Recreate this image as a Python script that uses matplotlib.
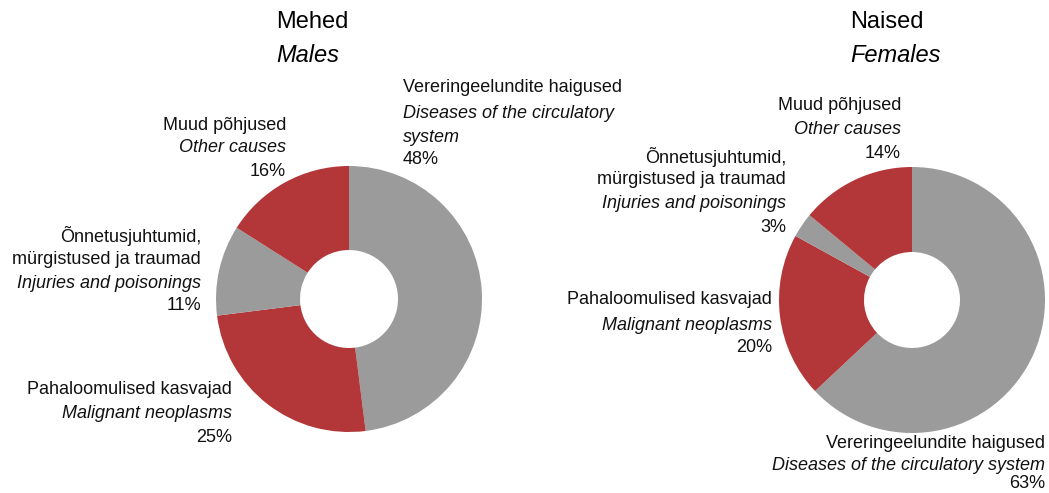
import matplotlib.pyplot as plt

plt.rcParams['font.family'] = ['Liberation Sans', 'DejaVu Sans']

# Data: share of causes of death (%)
causes_et = ["Vereringeelundite haigused", "Pahaloomulised kasvajad",
             "Õnnetusjuhtumid, mürgistused ja traumad", "Muud põhjused"]
causes_en = ["Diseases of the circulatory system", "Malignant neoplasms",
             "Injuries and poisonings", "Other causes"]
males = [48, 25, 11, 16]
females = [63, 20, 3, 14]
colors = ["#9b9b9b", "#b33638", "#9b9b9b", "#b33638"]

W, H = 1049, 493
fig = plt.figure(figsize=(W / 100, H / 100), dpi=100)
ax = fig.add_axes([0, 0, 1, 1])


def py(y):
    # pixel row -> data y
    return H - y


def donut(values, cx, cy, r, hole):
    ax.pie(values, colors=colors, startangle=90, counterclock=False,
           radius=r, center=(cx, py(cy)), frame=True,
           wedgeprops=dict(width=r - hole, linewidth=0))


def label(x, ys, lines, ha):
    # lines: list of (text, italic)
    for y, (t, it) in zip(ys, lines):
        ax.text(x, py(y), t, ha=ha, va='center', fontsize=13,
                style='italic' if it else 'normal', color='#111111')


donut(males, 349, 299, 133, 49)
donut(females, 912, 300, 133, 48)
ax.set_xlim(0, W)
ax.set_ylim(0, H)
ax.set_aspect('equal')
ax.axis('off')

# titles
ax.text(276, py(22), "Mehed", fontsize=17, ha='left', va='center')
ax.text(276, py(55), "Males", fontsize=17, ha='left', va='center', style='italic')
ax.text(850, py(22), "Naised", fontsize=17, ha='left', va='center')
ax.text(850, py(55), "Females", fontsize=17, ha='left', va='center', style='italic')

pct_m = [f"{v}%" for v in males]
pct_f = [f"{v}%" for v in females]

# Males labels
label(403, [88, 113, 137, 160],
      [(causes_et[0], False), ("Diseases of the circulatory", True),
       ("system", True), (pct_m[0], False)], 'left')
label(286, [125, 148, 172],
      [(causes_et[3], False), (causes_en[3], True), (pct_m[3], False)], 'right')
label(201, [236, 260, 283, 306],
      [("Õnnetusjuhtumid,", False), ("mürgistused ja traumad", False),
       (causes_en[2], True), (pct_m[2], False)], 'right')
label(232, [390, 414, 437],
      [(causes_et[1], False), (causes_en[1], True), (pct_m[1], False)], 'right')

# Females labels
label(901, [105, 130, 153],
      [(causes_et[3], False), (causes_en[3], True), (pct_f[3], False)], 'right')
label(786, [157, 180, 204, 227],
      [("Õnnetusjuhtumid,", False), ("mürgistused ja traumad", False),
       (causes_en[2], True), (pct_f[2], False)], 'right')
label(772, [299, 325, 348],
      [(causes_et[1], False), (causes_en[1], True), (pct_f[1], False)], 'right')
label(1045, [443, 465, 484],
      [(causes_et[0], False), (causes_en[0], True), (pct_f[0], False)], 'right')

fig.savefig("out.png", dpi=100)
